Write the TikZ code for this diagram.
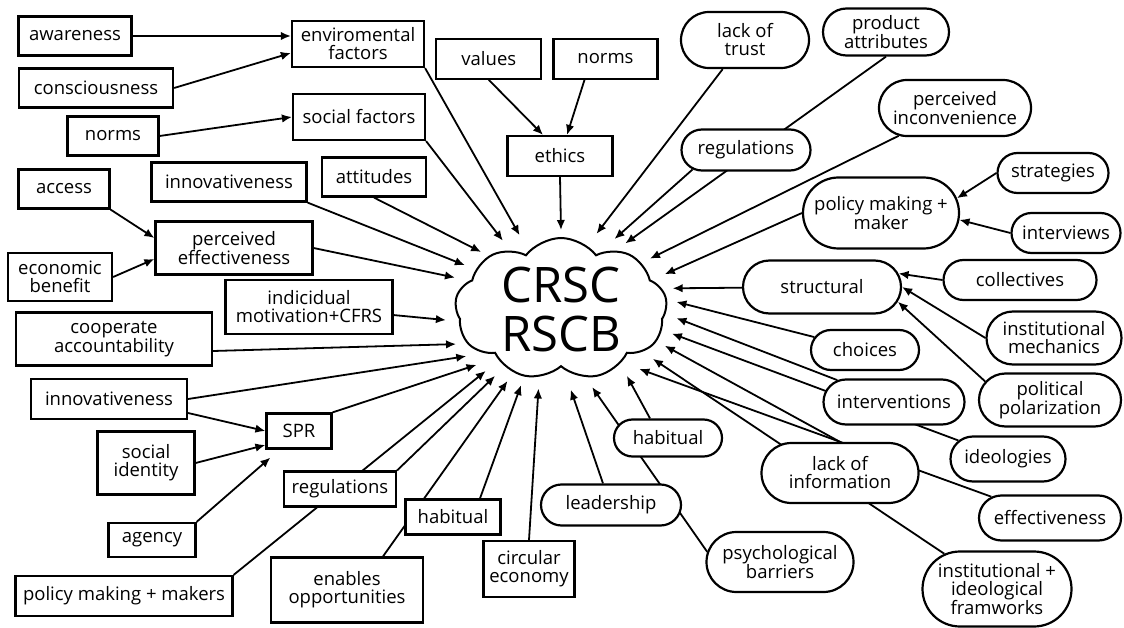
\documentclass[tikz,border=0pt]{standalone}
\usepackage{fontspec}
\setmainfont{Open Sans}
\usetikzlibrary{positioning,shapes.misc,shapes.symbols,shapes.geometric,arrows.meta}
\pgfdeclarelayer{bg}
\pgfsetlayers{bg,main}

\begin{document}
\begin{tikzpicture}[x=1pt,y=-1pt,
 >={Latex[length=10pt,width=8.5pt]},
 sqbox/.style={rectangle,draw=black,line width=2.2pt,fill=white,
   align=center,inner sep=0pt},
 pill/.style={rounded rectangle,draw=black,line width=2.2pt,fill=white,
   align=center,inner sep=0pt},
 sz/.style 2 args={minimum width=#1pt,minimum height=#2pt},
 link/.style={line width=1.8pt},
 every node/.style={font=\fontsize{18.5}{18}\selectfont}]
 \useasboundingbox (0,0) rectangle (1124,628);
 % left side
 \node[sqbox,sz={113}{39}] (awar) at (75,36) {awareness};
 \node[sqbox,sz={132}{46}] (envf) at (358,44) {enviromental\\factors};
 \node[sqbox,sz={154}{39}] (consc) at (96,88) {consciousness};
 \node[sqbox,sz={91}{39}] (normsl) at (113,136) {norms};
 \node[sqbox,sz={132}{46}] (socf) at (359,117) {social factors};
 \node[sqbox,sz={91}{39}] (access) at (64,189) {access};
 \node[sqbox,sz={155}{39}] (innovt) at (229,182) {innovativeness};
 \node[sqbox,sz={104}{39}] (attit) at (374,177) {attitudes};
 \node[sqbox,sz={157}{53}] (perceff) at (234,248) {perceived\\effectiveness};
 \node[sqbox,sz={104}{48}] (econ) at (60,277) {economic\\benefit};
 \node[sqbox,sz={167}{54}] (indiv) at (309,307) {indicidual\\motivation+CFRS};
 \node[sqbox,sz={196}{53}] (coop) at (114,339) {cooperate\\accountability};
 \node[sqbox,sz={156}{40}] (innovb) at (109,399) {innovativeness};
 \node[sqbox,sz={65}{35}] (spr) at (299,431) {SPR};
 \node[sqbox,sz={97}{63}] (socid) at (146,463) {social\\identity};
 \node[sqbox,sz={112}{35}] (regr) at (340,489) {regulations};
 \node[sqbox,sz={95}{35}] (habr) at (453,517) {habitual};
 \node[sqbox,sz={87}{34}] (agency) at (152,540) {agency};
 \node[sqbox,sz={217}{40}] (polmk) at (124,596) {policy making + makers};
 \node[sqbox,sz={152}{65}] (enab) at (347,590) {enables\\opportunities};
 \node[sqbox,sz={91}{56}] (circ) at (529,569) {circular\\economy};
 % top
 \node[sqbox,sz={105}{40}] (ethics) at (560,156) {ethics};
 \node[sqbox,sz={105}{40},above left=55pt and -36pt of ethics] (values) {values};
 \node[sqbox,sz={104}{40},right=10pt of values] (normst) {norms};
 % right side
 \node[pill,sz={128}{56}] (trust) at (745,40) {lack of\\trust};
 \node[pill,sz={126}{47}] (prod) at (886,32) {product\\attributes};
 \node[pill,sz={152}{56}] (inconv) at (955,108) {perceived\\inconvenience};
 \node[pill,sz={129}{41}] (regp) at (746,150) {regulations};
 \node[pill,sz={111}{40}] (strat) at (1053,173) {strategies};
 \node[pill,sz={156}{71}] (polmkr) at (881,213) {policy making +\\maker};
 \node[pill,sz={109}{40}] (intvw) at (1066,233) {interviews};
 \node[pill,sz={158}{53}] (struct) at (822,287) {structural};
 \node[pill,sz={153}{40}] (coll) at (1020,280) {collectives};
 \node[pill,sz={135}{53}] (instmech) at (1054,338) {institutional\\mechanics};
 \node[pill,sz={108}{40}] (choices) at (865,350) {choices};
 \node[pill,sz={142}{53}] (polpol) at (1050,400) {political\\polarization};
 \node[pill,sz={141}{45}] (interv) at (894,402) {interventions};
 \node[pill,sz={108}{37}] (habp) at (668,438) {habitual};
 \node[pill,sz={157}{60}] (lackinf) at (840,473) {lack of\\information};
 \node[pill,sz={115}{45}] (ideol) at (1008,459) {ideologies};
 \node[pill,sz={140}{41}] (leader) at (611,505) {leadership};
 \node[pill,sz={142}{45}] (effect) at (1050,518) {effectiveness};
 \node[pill,sz={147}{60}] (psych) at (780,562) {psychological\\barriers};
 \node[pill,sz={149}{75}] (instfw) at (997,589) {institutional +\\ideological\\framworks};
 % the cloud
 \node[cloud,draw=black,line width=2pt,fill=white,cloud puffs=9,
   cloud puff arc=105,cloud ignores aspect,minimum width=212pt,
   minimum height=142pt,inner sep=0pt,align=center,
   font=\fontsize{49}{49}\selectfont] (crsc) at (561,309) {CRSC\\RSCB};
 \node[ellipse,minimum width=232pt,minimum height=160pt,inner sep=0pt,
   outer sep=0pt] (ring) at (561,310) {};
 \begin{pgfonlayer}{bg}
 \draw[->,link] (awar.east) -- (awar.east -| envf.west);
 \draw[->,link] (consc.east) -- ([yshift=-9pt]envf.west);
 \draw[->,link] (normsl.east) -- (socf.west);
 \draw[->,link] (access.south east) -- ([yshift=10pt]perceff.west);
 \draw[->,link] (econ.east) -- ([yshift=-11pt]perceff.west);
 \draw[->,link] ([yshift=-14pt]innovb.east) -- (spr.west);
 \draw[->,link] (socid.east) -- ([yshift=-14pt]spr.west);
 \draw[->,link] (agency.north east) -- ([xshift=5pt,yshift=-8pt]spr.south west);
 \draw[->,link] (values.south) -- ([xshift=-17pt]ethics.north);
 \draw[->,link] ([xshift=-21pt]normst.south) -- ([xshift=7pt]ethics.north);
 \draw[->,link] (strat.west) -- (polmkr.11);
 \draw[->,link] (intvw.west) -- (polmkr.-5);
 \draw[->,link] (coll.west) -- (struct.10);
 \draw[->,link] (instmech.west) -- (struct.east);
 \draw[->,link] (polpol.164) -- (struct.-11);
 % into the cloud
 \draw[->,link] (envf.south east) -- (ring.119);
 \draw[->,link] (socf.south east) -- (ring.130);
 \draw[->,link] (attit.south) -- (ring.144);
 \draw[->,link] (innovt.south east) -- (ring.155);
 \draw[->,link] (perceff.east) -- (ring.163);
 \draw[->,link] (indiv) -- (ring.185);
 \draw[->,link] ([yshift=-12pt]coop.east) -- (ring.198);
 \draw[->,link] (innovb.east) -- (ring.206);
 \draw[->,link] (spr.north east) -- (ring.213);
 \draw[->,link] (polmk.north east) -- (ring.219);
 \draw[->,link] (regr.north east) -- (ring.225);
 \draw[->,link] ([xshift=36pt]enab.north) -- (ring.233);
 \draw[->,link] ([xshift=27pt]habr.north) -- (ring.242);
 \draw[->,link] (circ.north) -- (ring.254);
 \draw[->,link] ([xshift=-8pt]leader.north) -- (ring.-83);
 \draw[->,link] (psych.172) -- (ring.-68);
 \draw[->,link] ([xshift=-18pt]habp.north) -- (ring.-45);
 \draw[->,link] (effect) -- (ring.-37);
 \draw[->,link] (instfw) -- (ring.-28);
 \draw[->,link] (lackinf.north) -- (ring.-19);
 \draw[->,link] (ideol) -- (ring.-12);
 \draw[->,link] (interv) -- (ring.-4);
 \draw[->,link] (choices) -- (ring.4);
 \draw[->,link] (struct) -- (ring.11);
 \draw[->,link] (polmkr.west) -- (ring.19);
 \draw[->,link] (inconv) -- (ring.30);
 \draw[->,link] (prod.south) -- (ring.46);
 \draw[->,link] (regp.200) -- (ring.53);
 \draw[->,link] (trust) -- (ring.65);
 \draw[->,link] (ethics.south) -- (ring.90);
 \end{pgfonlayer}
\end{tikzpicture}
\end{document}
